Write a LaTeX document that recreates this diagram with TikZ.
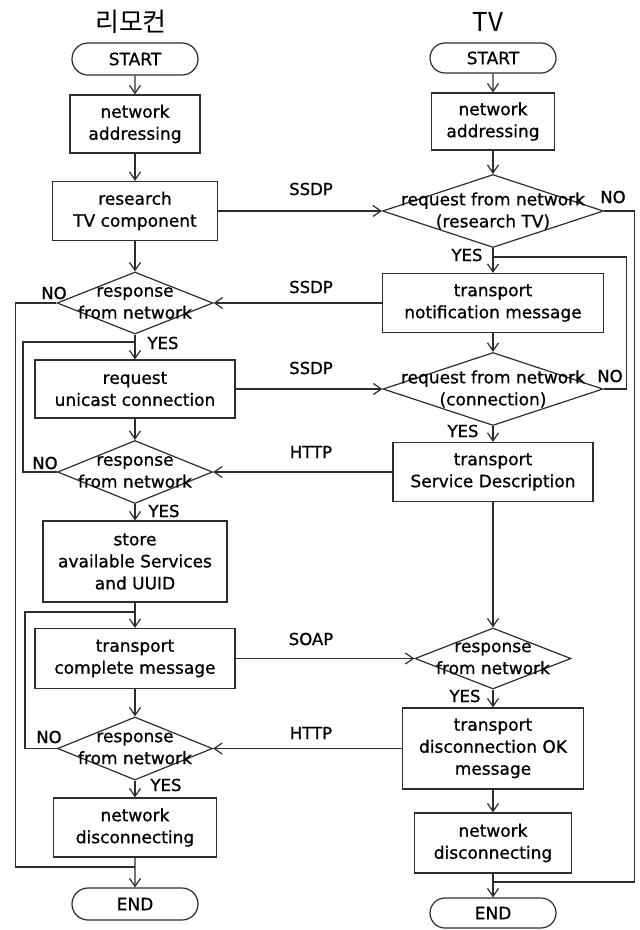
\documentclass[tikz,border=0pt]{standalone}
\usepackage{fontspec}
\setmainfont[FakeBold=0.8]{DejaVu Sans}
\newfontfamily\krfont{Noto Sans CJK KR}
\usetikzlibrary{shapes.geometric,shapes.misc,arrows.meta}
\definecolor{lc}{RGB}{45,45,45}
\begin{document}
\begin{tikzpicture}[x=1pt,y=-1pt,
  every node/.style={font=\fontsize{17}{22}\selectfont, align=center, inner sep=0pt},
  box/.style={draw=lc, line width=1.2pt, rectangle},
  pill/.style={draw=lc, line width=1.2pt, rounded rectangle},
  dia/.style={draw=lc, line width=1.2pt, diamond},
  arr/.style={draw=lc, line width=1.2pt, -{Straight Barb[length=8pt,width=11pt]}},
  ln/.style={draw=lc, line width=1.2pt},
  lab/.style={font=\fontsize{16.5}{18}\selectfont},
  ttl/.style={font=\krfont\fontsize{26}{28}\selectfont}]
\useasboundingbox (0,0) rectangle (640,930);
\fill[white] (0,0) rectangle (640,930);
% titles
\node[ttl] (ttlL) at (131,22) {리모컨};
\node[ttl] (ttlR) at (488,22) {TV};
% left column
\node[pill, minimum width=126pt, minimum height=32pt] (startL) at (135,59) {START};
\node[box, minimum width=130pt, minimum height=58pt] (addrL) at (135,124) {network\\addressing};
\node[box, minimum width=165pt, minimum height=59pt] (resL) at (135,211) {research\\TV component};
\node[dia, minimum width=156pt, minimum height=62pt] (d1L) at (135,303) {};
\node (d1Lt) at (d1L) {response\\from network};
\node[box, minimum width=200pt, minimum height=58pt] (uniL) at (135,389) {request\\unicast connection};
\node[dia, minimum width=155pt, minimum height=63pt] (d2L) at (135,472) {};
\node (d2Lt) at (d2L) {response\\from network};
\node[box, minimum width=184pt, minimum height=81pt] (storeL) at (135,561.5) {store\\available Services\\and UUID};
\node[box, minimum width=200pt, minimum height=60pt] (compL) at (135,658.5) {transport\\complete message};
\node[dia, minimum width=155pt, minimum height=63pt] (d3L) at (135,748.5) {};
\node (d3Lt) at (d3L) {response\\from network};
\node[box, minimum width=163pt, minimum height=59pt] (discL) at (135,827.5) {network\\disconnecting};
\node[pill, minimum width=126pt, minimum height=32pt] (endL) at (135,904) {END};
% right column
\node[pill, minimum width=126pt, minimum height=30pt] (startR) at (493,58) {START};
\node[box, minimum width=123pt, minimum height=57pt] (addrR) at (493,121.5) {network\\addressing};
\node[dia, minimum width=221pt, minimum height=73pt] (d1R) at (493,211) {};
\node (d1Rt) at (d1R) {request from network\\(research TV)};
\node[box, minimum width=221pt, minimum height=59pt] (notR) at (493,303) {transport\\notification message};
\node[dia, minimum width=220pt, minimum height=73pt] (d2R) at (493,389) {};
\node (d2Rt) at (d2R) {request from network\\(connection)};
\node[box, minimum width=200pt, minimum height=59pt] (sdR) at (493,472) {transport\\Service Description};
\node[dia, minimum width=156pt, minimum height=61pt] (d3R) at (493,658.5) {};
\node (d3Rt) at (d3R) {response\\from network};
\node[box, minimum width=181pt, minimum height=81pt] (dokR) at (493,748.5) {transport\\disconnection OK\\message};
\node[box, minimum width=157pt, minimum height=60pt] (discR) at (493,843) {network\\disconnecting};
\node[pill, minimum width=126pt, minimum height=30pt] (endR) at (493,913) {END};
% junctions
\coordinate (jL1) at (135,342);
\coordinate (jL2) at (135,612);
\coordinate (jL3) at (135,867);
\coordinate (jR1) at (493,257);
\coordinate (jR2) at (493,882);
% left flow
\draw[arr] (startL) -- (addrL);
\draw[arr] (addrL) -- (resL);
\draw[arr] (resL) -- (d1L.north);
\draw[arr] (d1L.south) -- (uniL);
\draw[arr] (uniL) -- (d2L.north);
\draw[arr] (d2L.south) -- (storeL);
\draw[arr] (storeL) -- (compL);
\draw[arr] (compL) -- (d3L.north);
\draw[arr] (d3L.south) -- (discL);
\draw[arr] (discL) -- (endL);
\draw[ln] (d1L.west) -- ++(-41,0) |- (jL3);
\draw[ln] (d2L.west) -- ++(-34,0) |- (jL1);
\draw[ln] (d3L.west) -- ++(-32,0) |- (jL2);
% right flow
\draw[arr] (startR) -- (addrR);
\draw[arr] (addrR) -- (d1R.north);
\draw[arr] (d1R.south) -- (notR);
\draw[arr] (notR) -- (d2R.north);
\draw[arr] (d2R.south) -- (sdR);
\draw[arr] (sdR) -- (d3R.north);
\draw[arr] (d3R.south) -- (dokR);
\draw[arr] (dokR) -- (discR);
\draw[arr] (discR) -- (endR);
\draw[ln] (d1R.east) -- ++(30,0) |- (jR2);
\draw[ln] (d2R.east) -- ++(23,0) |- (jR1);
% messages
\draw[arr] (resL.east) -- (d1R.west);
\draw[arr] (notR.west) -- (d1L.east);
\draw[arr] (uniL.east) -- (d2R.west);
\draw[arr] (sdR.west) -- (d2L.east);
\draw[arr] (compL.east) -- (d3R.west);
\draw[arr] (dokR.west) -- (d3L.east);
% labels
\node[lab] (m1) at (311,189) {SSDP};
\node[lab] (m2) at (311,287) {SSDP};
\node[lab] (m3) at (311,368) {SSDP};
\node[lab] (m4) at (311,452) {HTTP};
\node[lab] (m5) at (311,639) {SOAP};
\node[lab] (m6) at (311,733) {HTTP};
\node[lab] (noL1) at (54,293) {NO};
\node[lab] (yesL1) at (163,343) {YES};
\node[lab] (noL2) at (45,463) {NO};
\node[lab] (yesL2) at (164,511) {YES};
\node[lab] (noL3) at (49,737) {NO};
\node[lab] (yesL3) at (166,785) {YES};
\node[lab] (noR1) at (613,197) {NO};
\node[lab] (yesR1) at (467,255) {YES};
\node[lab] (noR2) at (610,376) {NO};
\node[lab] (yesR2) at (463,431) {YES};
\node[lab] (yesR3) at (465,696) {YES};
\end{tikzpicture}
\end{document}
